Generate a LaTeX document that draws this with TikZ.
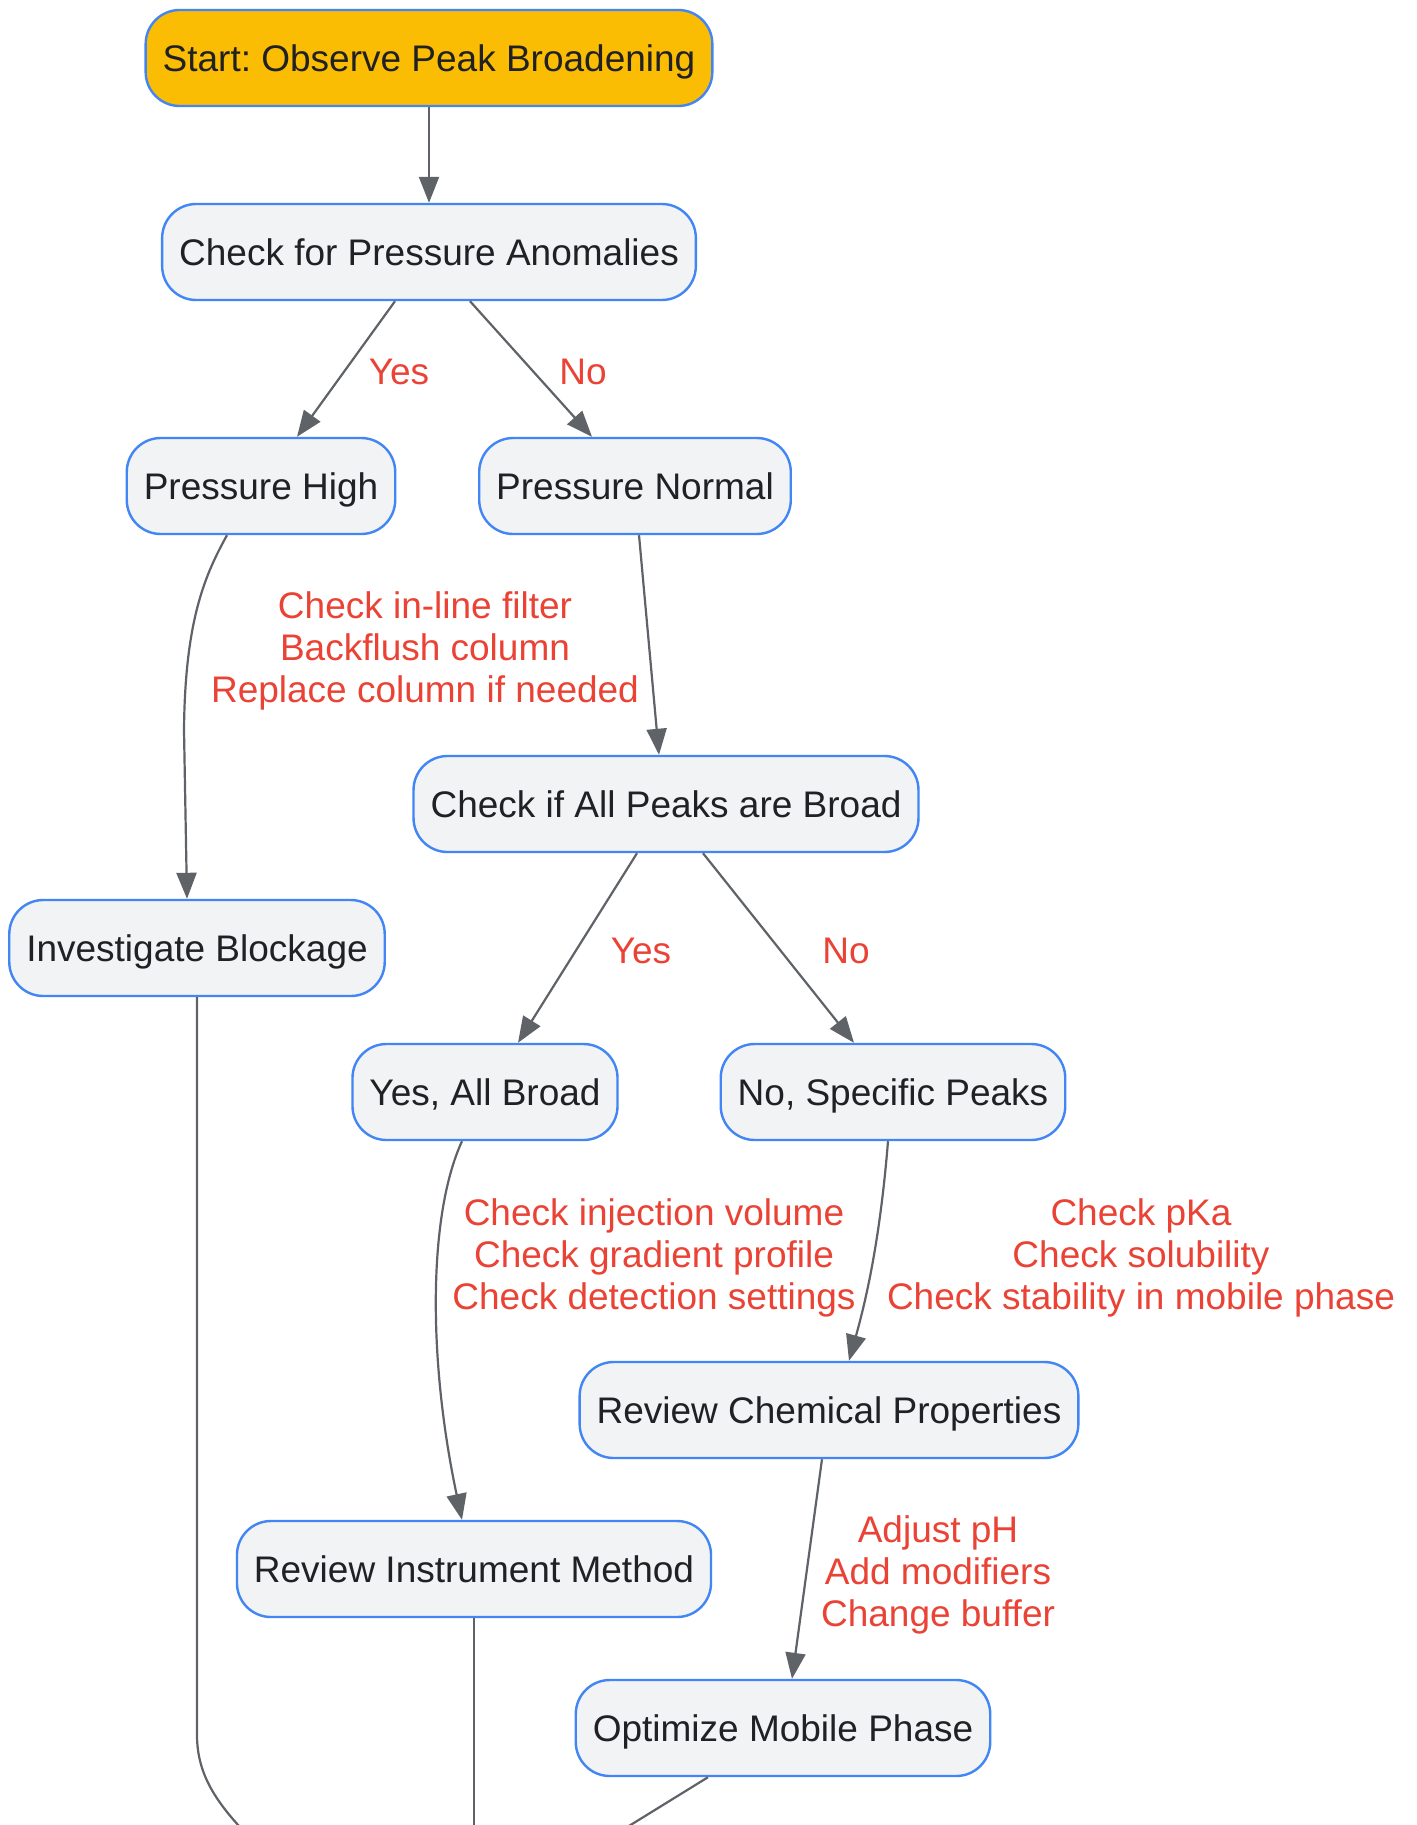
\documentclass[tikz,border=0pt]{standalone}
\usepackage{fontspec}
\setmainfont{Liberation Sans}
\frenchspacing
\usetikzlibrary{arrows.meta}
\definecolor{nodefill}{HTML}{F1F3F4}
\definecolor{nodeline}{HTML}{4285F4}
\definecolor{startfill}{HTML}{FBBC04}
\definecolor{txt}{HTML}{202124}
\definecolor{edge}{HTML}{5F6368}
\definecolor{lbl}{HTML}{EA4335}
\tikzset{
  box/.style={draw=nodeline, line width=1.2pt, fill=nodefill, rounded corners=17pt,
    minimum height=48pt, inner xsep=8.5pt, text height=17pt, text depth=3.5pt, text=txt,
    font=\fontsize{18.5}{22}\selectfont},
  startbox/.style={box, fill=startfill},
  conn/.style={draw=edge, line width=1.1pt, -{Triangle[length=13pt,width=10pt]}},
  plain/.style={draw=edge, line width=1.1pt},
  elabel/.style={text=lbl, align=center, font=\fontsize{18.5}{21}\selectfont, inner sep=0pt}
}
\begin{document}
\begin{tikzpicture}[x=0.5pt,y=-0.5pt]
\useasboundingbox (0,0) rectangle (1417,1825);
\clip (0,0) rectangle (1417,1825);
\fill[white] (0,0) rectangle (1417,1825);
% nodes
\node[startbox] (start) at (429,58) {Start: Observe Peak Broadening};
\node[box] (chk) at (429,252) {Check for Pressure Anomalies};
\node[box] (ph) at (261,486) {Pressure High};
\node[box] (pn) at (635,486) {Pressure Normal};
\node[box] (all) at (666,804) {Check if All Peaks are Broad};
\node[box] (inv) at (197,948) {Investigate Blockage};
\node[box] (yes) at (485,1092) {Yes, All Broad};
\node[box] (spec) at (893,1092) {No, Specific Peaks};
\node[box] (chem) at (829,1410) {Review Chemical Properties};
\node[box] (instr) at (474,1569) {Review Instrument Method};
\node[box] (opt) at (783,1728) {Optimize Mobile Phase};
% free ends below the picture
\coordinate (e1) at (262,1850);
\coordinate (e2) at (474,1850);
\coordinate (e3) at (590,1850);
% edges
\draw[conn] (start) -- (chk);
\draw[conn] (chk.south -| 395,0) -- (ph.north -| 297,0);
\draw[conn] (chk.south -| 470,0) -- (pn.north -| 592,0);
\node[elabel] (lyes1) at (399,372) {Yes};
\node[elabel] (lno1) at (583,372) {No};
\draw[conn] (ph.south -| 227,0) .. controls (205,575) and (185,620) .. (184,730) -- (inv.north -| 187,0);
\node[elabel] (l1) at (425,651) {Check in-line filter\\Backflush column\\Replace column if needed};
\draw[conn] (pn.south -| 639,0) -- (all.north -| 659,0);
\draw[conn] (all.south -| 637,0) -- (yes.north -| 518,0);
\draw[conn] (all.south -| 703,0) -- (spec.north -| 854,0);
\node[elabel] (lyes2) at (641,951) {Yes};
\node[elabel] (lno2) at (846,951) {No};
\draw[conn] (yes.south -| 462,0) .. controls (428,1215) and (428,1360) .. (instr.north -| 462,0);
\node[elabel] (l2) at (654,1258) {Check injection volume\\Check gradient profile\\Check detection settings};
\draw[conn] (spec.south -| 888,0) .. controls (880,1240) and (866,1300) .. (chem.north -| 849,0);
\node[elabel] (l3) at (1141,1258) {Check pKa\\Check solubility\\Check stability in mobile phase};
\draw[conn] (chem.south -| 822,0) -- (opt.north -| 792,0);
\node[elabel] (l4) at (938,1575) {Adjust pH\\Add modifiers\\Change buffer};
\draw[plain] (inv.south) -- (197,1735) .. controls (197,1780) and (222,1810) .. (e1);
\draw[plain] (instr.south) -- (e2);
\draw[plain] (opt.south -| 708,0) -- (e3);
\end{tikzpicture}
\end{document}
